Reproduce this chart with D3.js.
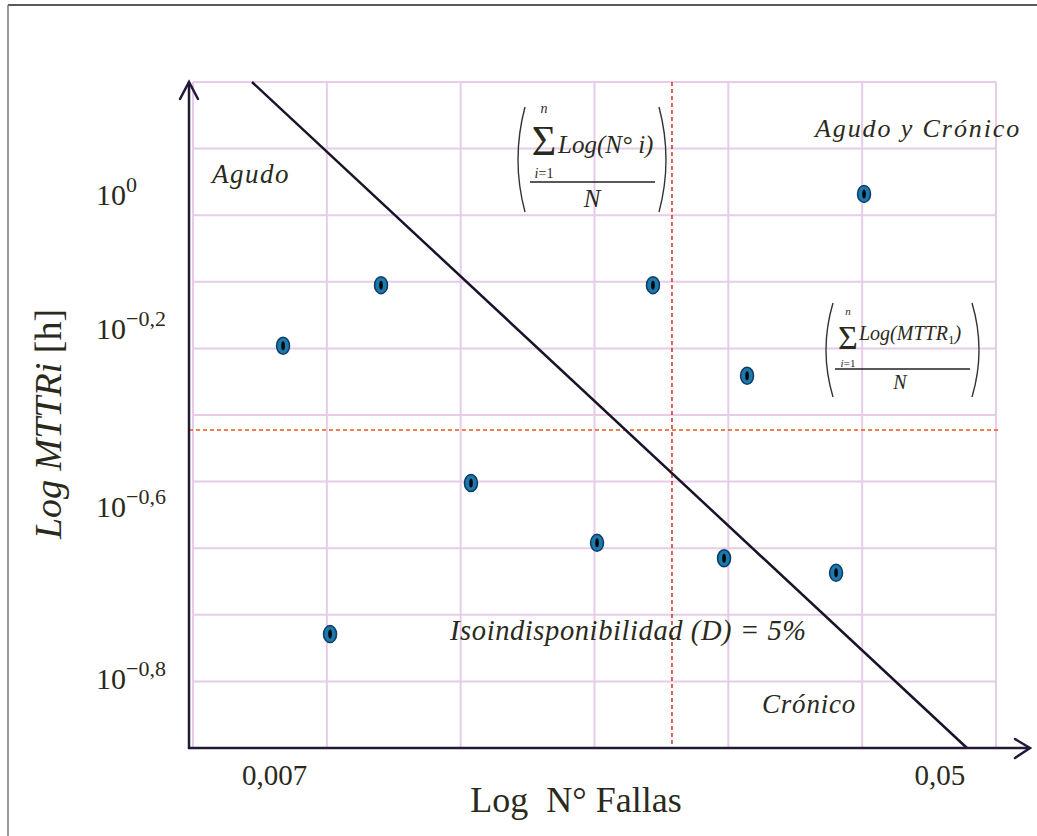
<!DOCTYPE html>
<html><head><meta charset="utf-8">
<script src="https://cdn.jsdelivr.net/npm/d3@7"></script>
<style>html,body{margin:0;padding:0;background:#fff}svg{display:block}</style>
</head><body>
<script>
// ---- data (grid units: x columns 0..6, y rows 0..10) ----
const pointX = [0.673, 1.405, 1.024, 2.077, 3.019, 3.437, 4.140, 3.968, 4.805, 5.014];
const pointY = [6.04, 6.95, 1.71, 3.98, 3.08, 6.95, 5.59, 2.85, 2.63, 8.32];
const isoLineX = [0.441, 5.783];
const isoLineY = [10, 0];
const meanX = 3.579;
const meanY = 4.775;
const xTickLabels = ["0,007", "0,05"];
const xTickVals = [0.61, 5.58];
const yTickExps = ["0", "\u22120,2", "\u22120,6", "\u22120,8"];
const yTickVals = [8.15, 6.14, 3.47, 0.89];
const xCols = [0, 1, 2, 3, 4, 5, 6];
const yRows = [0, 1, 2, 3, 4, 5, 6, 7, 8, 9, 10];

const W = 1037, H = 836;
const svg = d3.select("body").append("svg").attr("width", W).attr("height", H);
const x = d3.scaleLinear().domain([0, 6]).range([193, 996]);
const y = d3.scaleLinear().domain([0, 10]).range([748, 82]);
const serif = "'Liberation Serif','Times New Roman',serif";
const txt = "#2a2a1c";

// border
svg.append("line").attr("x1", 8).attr("y1", 5).attr("x2", W).attr("y2", 5).attr("stroke", "#222").attr("stroke-width", 1.5);
svg.append("line").attr("x1", 8).attr("y1", 5).attr("x2", 8).attr("y2", H).attr("stroke", "#777").attr("stroke-width", 1.5);

// grid
const grid = svg.append("g").attr("stroke", "#e6cce8").attr("stroke-width", 2);
grid.selectAll("line.v").data(xCols).join("line").attr("class", "v")
  .attr("x1", d => x(d)).attr("x2", d => x(d)).attr("y1", y(10)).attr("y2", y(0));
grid.selectAll("line.h").data(yRows).join("line").attr("class", "h")
  .attr("x1", x(0)).attr("x2", x(6)).attr("y1", d => y(d)).attr("y2", d => y(d));

// mean lines
svg.append("line").attr("x1", x(meanX)).attr("x2", x(meanX)).attr("y1", y(10)).attr("y2", y(0))
  .attr("stroke", "#d42010").attr("stroke-width", 1.4).attr("stroke-dasharray", "4,3");
svg.append("line").attr("x1", 189).attr("x2", 1000).attr("y1", y(meanY)).attr("y2", y(meanY))
  .attr("stroke", "#e8581c").attr("stroke-width", 1.4).attr("stroke-dasharray", "4,3");

// iso line
svg.append("line").attr("x1", x(isoLineX[0])).attr("y1", y(isoLineY[0])).attr("x2", x(isoLineX[1])).attr("y2", y(isoLineY[1]))
  .attr("stroke", "#1a1228").attr("stroke-width", 2.5);

// axes
const ax = svg.append("g").attr("stroke", "#24183a").attr("stroke-width", 2.5).attr("fill", "none").attr("stroke-linecap", "round");
ax.append("line").attr("x1", 189).attr("y1", 748).attr("x2", 189).attr("y2", 83);
ax.append("path").attr("d", "M180,99 L189,82 L198,99");
ax.append("line").attr("x1", 189).attr("y1", 748).attr("x2", 1029).attr("y2", 748);
ax.append("path").attr("d", "M1015,739 L1030,748 L1015,758");

// points
const pts = svg.append("g").selectAll("g").data(pointX.map((d, i) => [d, pointY[i]])).join("g")
  .attr("transform", d => `translate(${x(d[0])},${y(d[1])})`);
pts.append("ellipse").attr("rx", 6.5).attr("ry", 8.5).attr("fill", "#1c78ad").attr("stroke", "#0b3c62").attr("stroke-width", 1.5);
pts.append("ellipse").attr("rx", 1.8).attr("ry", 4.5).attr("fill", "#050505");

// tick labels
svg.selectAll("text.xt").data(xTickLabels).join("text").attr("class", "xt")
  .attr("x", (d, i) => x(xTickVals[i])).attr("y", 785).attr("text-anchor", "middle")
  .attr("font-family", serif).attr("font-size", 29).attr("fill", txt).text(d => d);
const yt = svg.selectAll("text.yt").data(yTickExps).join("text").attr("class", "yt")
  .attr("x", 96).attr("y", (d, i) => y(yTickVals[i]))
  .attr("font-family", serif).attr("fill", txt);
yt.append("tspan").attr("font-size", 30).text("10");
yt.append("tspan").attr("font-size", 22).attr("dy", -13).text(d => d);

// axis titles
svg.append("text").attr("x", 576).attr("y", 812).attr("text-anchor", "middle")
  .attr("font-family", serif).attr("font-size", 36).attr("fill", txt).attr("xml:space", "preserve").text("Log  N\u00b0 Fallas");
const yl = svg.append("text").attr("transform", "translate(61,424) rotate(-90)").attr("text-anchor", "middle")
  .attr("font-family", serif).attr("font-size", 38).attr("fill", txt);
yl.append("tspan").attr("font-style", "italic").text("Log MTTRi ");
yl.append("tspan").text("[h]");

// region labels
function lab(t, xx, yy, fs, ls) {
  svg.append("text").attr("x", xx).attr("y", yy).attr("font-family", serif).attr("font-style", "italic")
    .attr("font-size", fs).attr("letter-spacing", ls).attr("fill", txt).text(t);
}
lab("Agudo", 212, 183, 27, 1.5);
lab("Agudo y Cr\u00f3nico", 815, 137, 26, 1.9);
lab("Isoindisponibilidad (D) = 5%", 450, 640, 28.5, 0.6);
lab("Cr\u00f3nico", 762, 713, 27, 0.8);

// formulas
function formula(o) {
  const g = svg.append("g").attr("font-family", serif).attr("fill", txt);
  const p = g.append("g").attr("fill", "none").attr("stroke", "#333").attr("stroke-width", 1.4);
  const mid = (o.top + o.bot) / 2;
  p.append("path").attr("d", `M${o.lx + 8},${o.top} Q${o.lx - 6},${mid} ${o.lx + 8},${o.bot}`);
  p.append("path").attr("d", `M${o.rx - 8},${o.top} Q${o.rx + 6},${mid} ${o.rx - 8},${o.bot}`);
  g.append("text").attr("x", o.sx).attr("y", o.sy).attr("text-anchor", "middle").attr("font-size", o.sfs).text("\u03a3");
  g.append("text").attr("x", o.sx).attr("y", o.ny).attr("text-anchor", "middle").attr("font-size", o.sub).attr("font-style", "italic").text("n");
  const lo = g.append("text").attr("x", o.sx).attr("y", o.iy).attr("text-anchor", "middle").attr("font-size", o.sub);
  lo.append("tspan").attr("font-style", "italic").text("i");
  lo.append("tspan").text("=1");
  const m = g.append("text").attr("x", o.tx).attr("y", o.ty).attr("font-size", o.fs).attr("font-style", "italic");
  o.body(m);
  g.append("line").attr("x1", o.fx1).attr("x2", o.fx2).attr("y1", o.fy).attr("y2", o.fy).attr("stroke", "#222").attr("stroke-width", 1.6);
  g.append("text").attr("x", o.nx).attr("y", o.nyb).attr("text-anchor", "middle").attr("font-size", o.fs).attr("font-style", "italic").text("N");
}
formula({lx: 517, rx: 667, top: 107, bot: 212, sx: 544, sy: 155, sfs: 42, ny: 113, iy: 178, sub: 14,
  tx: 558, ty: 153, fs: 25, fx1: 530, fx2: 655, fy: 182, nx: 592, nyb: 207,
  body: m => { m.text("Log(N\u00b0 i)"); }});
formula({lx: 825, rx: 980, top: 303, bot: 397, sx: 848, sy: 349, sfs: 34, ny: 315, iy: 367, sub: 11,
  tx: 859, ty: 340, fs: 20, fx1: 835, fx2: 970, fy: 369, nx: 900, nyb: 389,
  body: m => { m.append("tspan").text("Log(MTTR"); m.append("tspan").attr("font-size", 13).attr("dy", 4).attr("font-style", "normal").text("1"); m.append("tspan").attr("dy", -4).text(")"); }});
</script>
</body></html>
